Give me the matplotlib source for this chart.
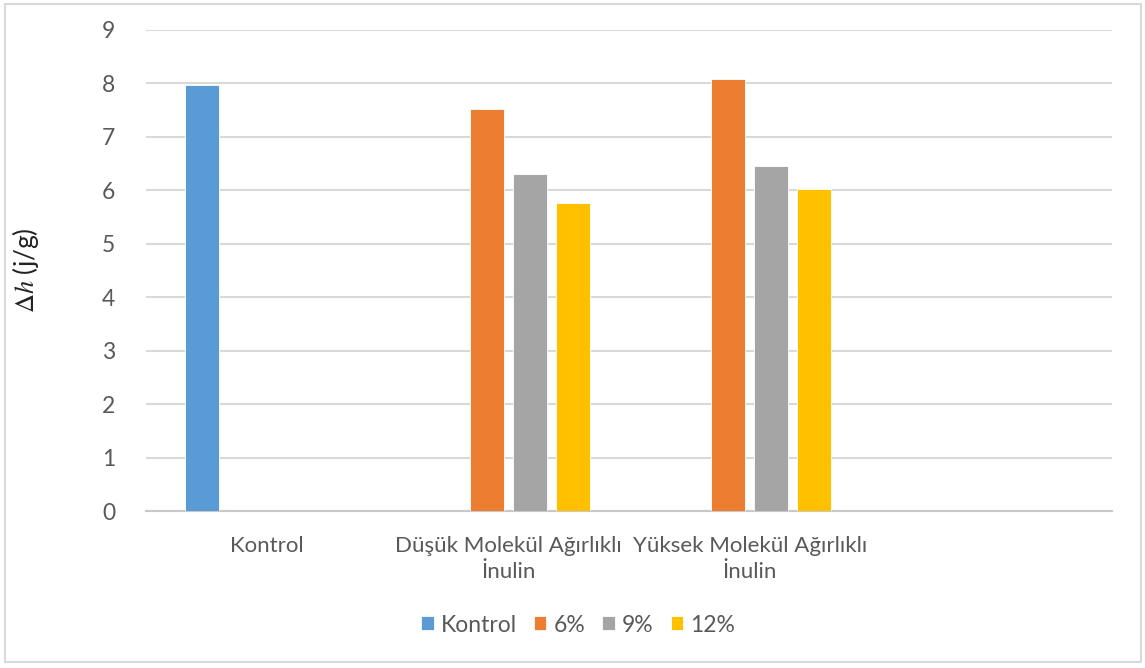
import matplotlib
matplotlib.use("Agg")
import matplotlib.pyplot as plt
from matplotlib.patches import Rectangle
import numpy as np

plt.rcParams['font.family'] = ['Lato', 'DejaVu Sans']
plt.rcParams['mathtext.fontset'] = 'stix'

# data
categories = ['Kontrol', 'Düşük Molekül Ağırlıklı\nİnulin',
              'Yüksek Molekül Ağırlıklı\nİnulin', '']
series_names = ['Kontrol', '6%', '9%', '12%']
kontrol = [7.97, None, None, None]
pct6 = [None, 7.52, 8.09, None]
pct9 = [None, 6.31, 6.45, None]
pct12 = [None, 5.76, 6.03, None]
colors = ['#5B9BD5', '#ED7D31', '#A5A5A5', '#FFC000']

text_col = '#595959'
grid_col = '#D9D9D9'

fig = plt.figure(figsize=(11.45, 6.68), dpi=100)
ax = fig.add_axes([146 / 1145, 1 - 511 / 668, (1112 - 146) / 1145, (511 - 30) / 668])

x = np.arange(len(categories))
step = 0.178
width = 0.141
all_series = [kontrol, pct6, pct9, pct12]
for i, (vals, name, c) in enumerate(zip(all_series, series_names, colors)):
    v = [np.nan if a is None else a for a in vals]
    ax.bar(x + (i - 1.5) * step, v, width, color=c, label=name,
           edgecolor='white', linewidth=0.6, zorder=3)

ax.set_xlim(-0.5, 3.5)
ax.set_ylim(0, 9)
ax.set_yticks(range(0, 10))
ax.yaxis.grid(True, color=grid_col, linewidth=1.5, zorder=0)
ax.set_axisbelow(True)
for s in ['top', 'right', 'left']:
    ax.spines[s].set_visible(False)
ax.spines['bottom'].set_color('#C8C8C8')
ax.spines['bottom'].set_linewidth(1.5)
ax.tick_params(axis='both', length=0, labelsize=16.5, colors=text_col)
ax.tick_params(axis='y', pad=22)
ax.tick_params(axis='x', pad=18, labelsize=16)
ax.set_xticks(x)
ax.set_xticklabels(categories, linespacing=1.4)

ax.set_ylabel('$\\Delta h$ (j/g)', fontsize=19, color='#222222', labelpad=44)

leg = fig.legend(loc='center', bbox_to_anchor=(578 / 1145, 1 - 625 / 668), ncol=4,
                 frameon=False, fontsize=16.5, handlelength=0.55, handleheight=0.55,
                 handletextpad=0.3, columnspacing=0.75)
for t in leg.get_texts():
    t.set_color(text_col)

# outer chart border
fig.patches.append(Rectangle((5 / 1145, 6 / 668), (1141 - 5) / 1145, (662 - 4) / 668,
                             transform=fig.transFigure, fill=False,
                             edgecolor=grid_col, linewidth=1.5))

fig.savefig('out.png', dpi=100)
